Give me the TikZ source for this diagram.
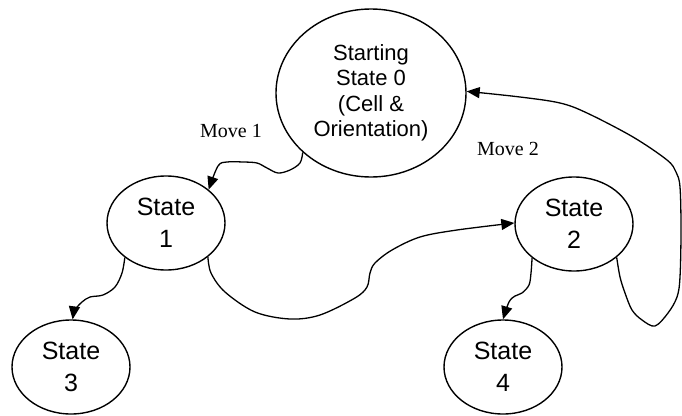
\documentclass[tikz,border=0pt]{standalone}
\usepackage{fontspec}
\setmainfont{Liberation Sans}
\newfontfamily\timesfont{Liberation Serif}
\usetikzlibrary{shapes.geometric,arrows.meta}
\begin{document}
\begin{tikzpicture}[x=1pt,y=-1pt,
  statenode/.style={ellipse,draw,line width=1.4pt,inner sep=0pt,align=center,
    minimum width=118pt,minimum height=94pt,font=\fontsize{25}{32}\selectfont},
  startnode/.style={ellipse,draw,line width=1.4pt,inner sep=0pt,align=center,
    minimum width=190pt,minimum height=168pt,font=\fontsize{22}{25.5}\selectfont},
  movelabel/.style={anchor=base west,inner sep=0pt,font=\timesfont\fontsize{20}{24}\selectfont},
  conn/.style={line width=1.3pt,-{Triangle[length=13pt,width=11pt]}}]
\useasboundingbox (0,0) rectangle (682,415);
\node[startnode] (s0) at (371,93) {Starting\\State 0\\(Cell \&\\Orientation)};
\node[statenode] (s1) at (166,223) {State\\1};
\node[statenode] (s2) at (574,224) {State\\2};
\node[statenode] (s3) at (71,367) {State\\3};
\node[statenode] (s4) at (503,367) {State\\4};
\node[movelabel] (m1) at (200,137) {Move 1};
\node[movelabel] (m2) at (477,155) {Move 2};
% Move 1 : state 0 -> state 1
\draw[conn] plot[smooth,tension=0.55] coordinates {(s0.221) (300,163) (290,170) (278,173) (267,168) (257,163) (243,162) (227,162) (218,166) (s1.38)};
% state 1 -> state 3
\draw[conn] plot[smooth,tension=0.55] coordinates {(s1.220) (122,273) (115,287) (103,295) (90,297) (82,302) (75,310) (s3.88)};
% state 1 -> state 2
\draw[conn] plot[smooth,tension=0.55] coordinates {(s1.321) (211,273) (225,292) (255,312) (290,319) (320,315) (355,298) (367,287) (370,273) (375,263) (392,250) (420,237) (457,230) (s2.179)};
% state 2 -> state 4
\draw[conn] plot[smooth,tension=0.55] coordinates {(s2.219) (531,273) (529,285) (522,293) (515,296) (509,302) (s4.90)};
% Move 2 : state 2 -> state 0
\draw[conn] plot[smooth,tension=0.55] coordinates {(s2.322) (620,277) (625,293) (632,310) (642,320) (655,326) (668,313) (677,297) (680,277) (681,230) (680,187) (676,172) (667,160) (633,137) (587,113) (560,103) (520,97) (s0.1)};
\end{tikzpicture}
\end{document}
